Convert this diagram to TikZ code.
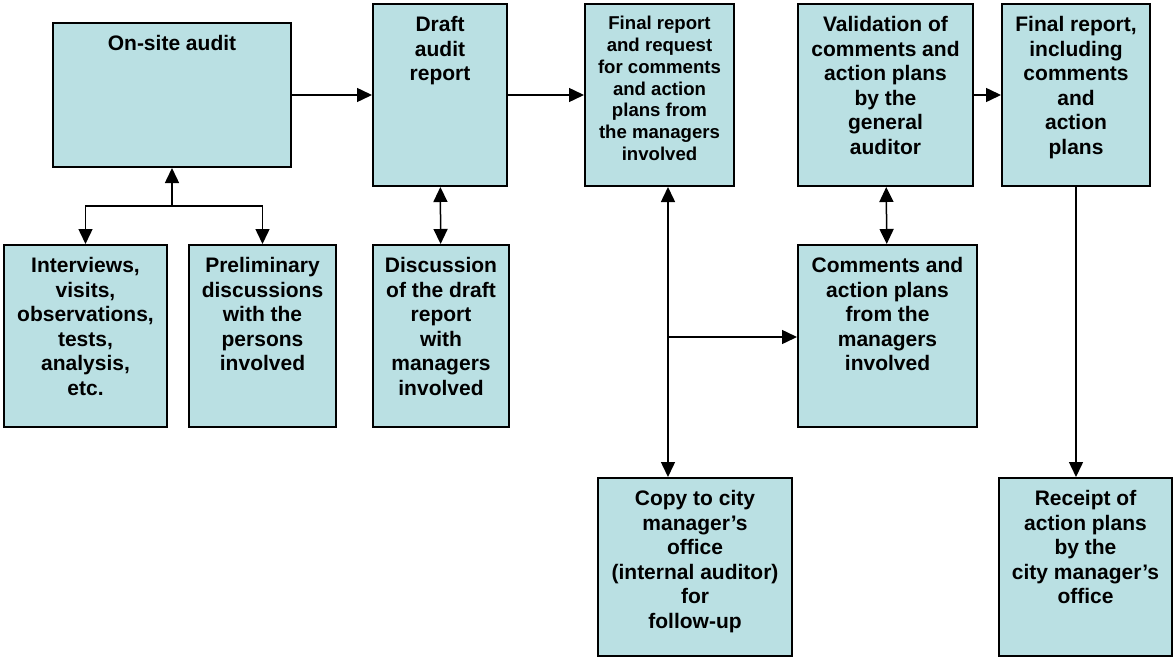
\documentclass[tikz,border=0pt]{standalone}
\usepackage{fontspec}
\setmainfont{Liberation Sans}
\usetikzlibrary{arrows.meta}
\definecolor{stagefill}{RGB}{186,224,227}
\newcommand{\stagetext}[3]{\parbox[c][#2pt][t]{#1pt}{\centering\vspace*{12.5pt}#3\par}}

\begin{document}
\begin{tikzpicture}[x=1pt,y=-1pt,
  stage/.style={draw, fill=stagefill, line width=2pt, inner sep=0pt, anchor=north west,
    font=\bfseries\fontsize{21}{24.5}\selectfont},
  small/.style={font=\bfseries\fontsize{18.6}{21.7}\selectfont},
  flow/.style={line width=1.5pt, -{Triangle[length=15pt,width=14pt]}},
  both/.style={line width=1.5pt, {Triangle[length=15pt,width=14pt]}-{Triangle[length=15pt,width=14pt]}}]
\useasboundingbox (0,0) rectangle (1173,661);

\node[stage] (onsite) at (52,22) {\stagetext{238}{144}{On-site audit}};
\node[stage] (draft) at (372,3) {\stagetext{134}{182}{Draft\\audit\\report}};
\node[stage,small] (final1) at (584,3) {\stagetext{149}{182}{Final report\\and request\\for comments\\and action\\plans from\\the managers\\involved}};
\node[stage] (valid) at (797,3) {\stagetext{175}{182}{Validation of\\comments and\\action plans\\by the\\general\\auditor}};
\node[stage] (final2) at (1001,3) {\stagetext{148}{182}{Final report,\\including\\comments\\and\\action\\plans}};
\node[stage] (interv) at (3,244) {\stagetext{163}{182}{Interviews,\\visits,\\observations,\\tests,\\analysis,\\etc.}};
\node[stage] (prelim) at (188,244) {\stagetext{147}{182}{Preliminary\\discussions\\with the\\persons\\involved}};
\node[stage] (discuss) at (372,244) {\stagetext{136}{182}{Discussion\\of the draft\\report\\with\\managers\\involved}};
\node[stage] (comments) at (797,244) {\stagetext{179}{182}{Comments and\\action plans\\from the\\managers\\involved}};
\node[stage] (copy) at (597,477) {\stagetext{194}{178}{Copy to city\\manager’s\\office\\(internal auditor)\\for\\follow-up}};
\node[stage] (receipt) at (998,477) {\stagetext{173}{178}{Receipt of\\action plans\\by the\\city manager’s\\office}};

\coordinate (split) at (172,206);
\coordinate (tap) at (668,337);

\path[draw,flow] (onsite.east) -- (onsite.east -| draft.west);
\path[draw,flow] (draft) -- (final1);
\path[draw,flow] (valid) -- (final2);
\path[draw,both] (draft) -- (discuss);
\path[draw,both] (valid) -- (comments);
\path[draw,flow] (split) -- (onsite.south);
\path[draw,flow] (split) -| (interv.north);
\path[draw,flow] (split) -| (prelim.north);
\path[draw,both] (tap |- final1.south) -- (tap |- copy.north);
\path[draw,flow] (tap) -- (tap -| comments.west);
\path[draw,flow] (final2.south) -- (final2.south |- receipt.north);
\end{tikzpicture}
\end{document}
